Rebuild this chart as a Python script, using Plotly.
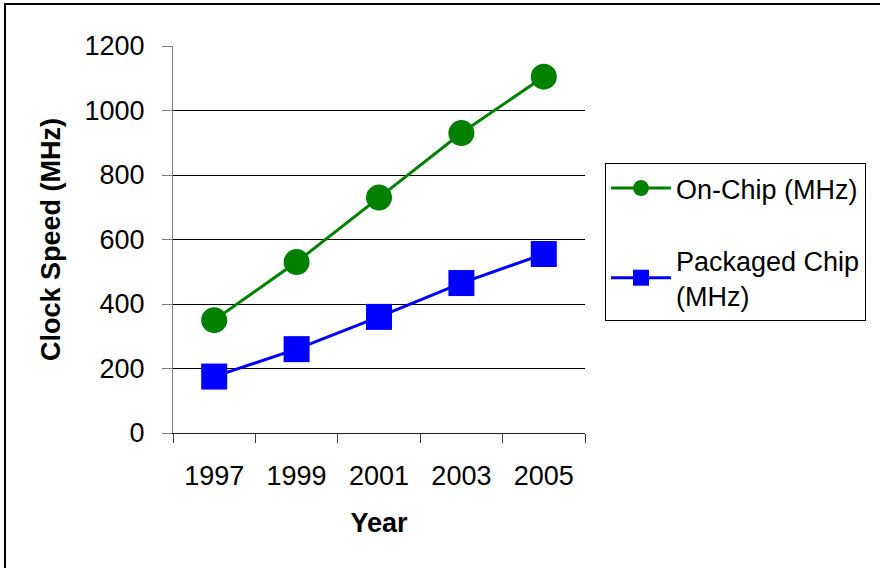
import plotly.graph_objects as go

# Clock speed roadmap values (MHz)
years = ["1997", "1999", "2001", "2003", "2005"]
on_chip = [350, 530, 730, 930, 1105]
packaged = [175, 260, 360, 465, 555]
y_ticks = [0, 200, 400, 600, 800, 1000, 1200]

FONT = "Liberation Sans, Arial, sans-serif"
W, H = 880, 568
L, R, T, B = 173, 295, 46, 135

fig = go.Figure()
fig.add_trace(go.Scatter(
    x=years, y=on_chip, name="On-Chip (MHz)", mode="lines+markers",
    legendgroup="a",
    line=dict(color="#008000", width=3),
    marker=dict(symbol="circle", size=26, color="#008000"),
))
fig.add_trace(go.Scatter(
    x=years, y=packaged, name="Packaged Chip<br>(MHz)", mode="lines+markers",
    legendgroup="b",
    line=dict(color="#0000FF", width=3),
    marker=dict(symbol="square", size=26, color="#0000FF"),
))

plot_w = W - L - R
plot_h = H - T - B

# outer frame of the chart image (left and top edges)
fig.add_shape(type="rect", xref="paper", yref="paper",
              x0=(5 - L) / plot_w, x1=2.5, y0=-1.5, y1=(H - B - 4) / plot_h,
              line=dict(color="black", width=2), layer="below")

fig.update_layout(
    width=W, height=H,
    margin=dict(l=L, r=R, t=T, b=B),
    paper_bgcolor="white", plot_bgcolor="white",
    font=dict(family=FONT, size=27, color="black"),
    showlegend=True,
    legend=dict(
        x=(605 - L) / plot_w, xanchor="left",
        y=(H - B - 163) / plot_h, yanchor="top",
        bordercolor="black", borderwidth=1,
        font=dict(family=FONT, size=27, color="black"),
        tracegroupgap=34, itemwidth=60,
        bgcolor="white",
    ),
    xaxis=dict(
        type="category", tickson="boundaries",
        range=[-0.5, len(years) - 0.5],
        showline=True, linecolor="#202020", linewidth=1,
        ticks="outside", ticklen=9, tickcolor="#404040",
        showgrid=False, zeroline=False,
        ticklabelstandoff=19,
        tickfont=dict(family=FONT, size=27),
        title=dict(text="<b>Year</b>", font=dict(family=FONT, size=27), standoff=22),
    ),
    yaxis=dict(
        range=[0, 1200], tickvals=y_ticks,
        showline=True, linecolor="#808080", linewidth=1,
        ticks="outside", ticklen=10, tickcolor="#808080",
        showgrid=True, gridcolor="black", gridwidth=1,
        zeroline=False,
        ticklabelstandoff=12,
        tickfont=dict(family=FONT, size=27),
        title=dict(text="<b>Clock Speed (MHz)</b>", font=dict(family=FONT, size=27), standoff=16),
    ),
)

fig.write_html("out.html")
